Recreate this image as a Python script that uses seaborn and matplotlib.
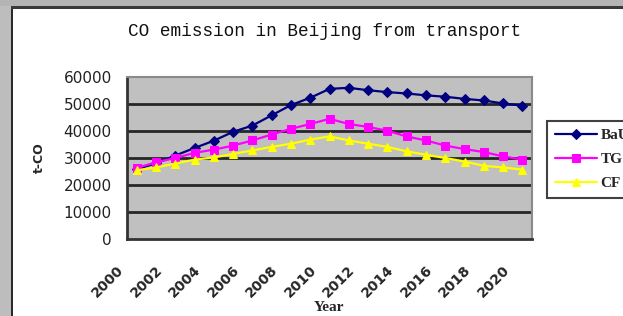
import numpy as np
import pandas as pd
import matplotlib
matplotlib.use("Agg")
import matplotlib.pyplot as plt
import matplotlib.transforms as mtransforms
import seaborn as sns
from matplotlib.patches import Rectangle

# === Data ===
years = list(range(2000, 2021))
bau = [25900, 28000, 30900, 33700, 36400, 39700, 42000, 45800, 49600, 52300, 55600,
       56000, 55100, 54400, 53900, 53200, 52700, 51900, 51300, 50200, 49400]
tg = [26300, 28400, 30000, 31900, 33100, 34600, 36500, 38700, 40800, 42600, 44500,
      42600, 41500, 40100, 38000, 36500, 34600, 33300, 32200, 30600, 29400]
cf = [25400, 26500, 27900, 29400, 30200, 31500, 32800, 34100, 35300, 36800, 38000,
      36500, 35300, 34100, 32500, 31200, 30000, 28700, 27100, 26500, 25700]
series_names = ["BaU", "TG", "CF"]
series_colors = ["#000080", "#ff00ff", "#ffff00"]
series_markers = ["D", "s", "^"]
y_ticks = [0, 10000, 20000, 30000, 40000, 50000, 60000]
label_years = list(range(2000, 2021, 2))

df = pd.DataFrame({"Year": years * 3,
                   "value": bau + tg + cf,
                   "scenario": np.repeat(series_names, len(years))})

sns.set_style("white")
fig = plt.figure(figsize=(6.23, 3.16), dpi=100)

# window frame (gray strip on the left and top, dark border)
fig.patches.append(Rectangle((0, 0), 11 / 623, 1, transform=fig.transFigure,
                             facecolor="#bdbdbd", edgecolor="none", zorder=0))
fig.patches.append(Rectangle((0, 1 - 6 / 316), 1, 6 / 316, transform=fig.transFigure,
                             facecolor="#b4b4b4", edgecolor="none", zorder=0))
fig.patches.append(Rectangle((11 / 623, 0), 2 / 623, 1 - 6 / 316, transform=fig.transFigure,
                             facecolor="#2a2a2a", edgecolor="none", zorder=1))
fig.patches.append(Rectangle((11 / 623, 1 - 8.5 / 316), 1, 2.5 / 316, transform=fig.transFigure,
                             facecolor="#3a3a3a", edgecolor="none", zorder=1))

ax = fig.add_axes([127 / 623, 1 - 239 / 316, 405 / 623, 162 / 316])
ax.set_facecolor("#c0c0c0")

for name, col, mk in zip(series_names, series_colors, series_markers):
    sns.lineplot(data=df[df["scenario"] == name], x="Year", y="value", ax=ax,
                 color=col, marker=mk, markersize=6 if mk != "D" else 5,
                 markeredgecolor=col, linewidth=1.6, label=name, zorder=3)

ax.set_xlim(1999.5, 2020.5)
ax.set_ylim(0, 60000)
ax.set_yticks(y_ticks)
ax.set_yticklabels([str(v) for v in y_ticks], fontsize=11, color="#222222")
for v in y_ticks[1:-1]:
    ax.axhline(v, color="#262626", linewidth=2, zorder=1)

ax.set_xticks(label_years)
ax.set_xticklabels([str(y) for y in label_years], rotation=45, ha="right",
                   rotation_mode="anchor", fontsize=10, fontweight="bold")
ax.set_xticks(np.arange(1999.5, 2021, 1), minor=True)
ax.tick_params(axis="x", which="major", length=0, pad=17)
ax.tick_params(axis="x", which="minor", direction="in", length=3, width=1.5, color="#202020")
ax.tick_params(axis="y", length=3, direction="out", width=1.5, color="#202020", pad=8)

# labels sit a bit left of their category, as in the reference
shift = mtransforms.ScaledTranslation(-0.2, 0, fig.dpi_scale_trans)
for tick in ax.xaxis.get_major_ticks():
    tick.label1.set_transform(tick.label1.get_transform() + shift)

for side in ["top", "right"]:
    ax.spines[side].set_color("#8a8a8a")
    ax.spines[side].set_linewidth(1.5)
for side in ["left", "bottom"]:
    ax.spines[side].set_color("#333333")
    ax.spines[side].set_linewidth(2)

ax.set_xlabel("Year", fontsize=11, fontweight="bold", family="Liberation Serif")
ax.set_ylabel("t-CO", fontsize=9, fontweight="bold")
ax.yaxis.set_label_coords(-0.2, 0.5)
ax.xaxis.set_label_coords(0.5, -0.385)

fig.text(325 / 623, 1 - 31 / 316, "CO emission in Beijing from transport",
         ha="center", va="center", fontsize=12.8, family="Liberation Mono",
         color="#111111")

leg = ax.legend(loc="upper left", bbox_to_anchor=(547 / 623, 1 - 121 / 316),
                bbox_transform=fig.transFigure, frameon=True, fancybox=False,
                fontsize=11, handlelength=2.8, handletextpad=0.2, borderpad=0.5,
                labelspacing=0.68, borderaxespad=0)
leg.get_frame().set_edgecolor("#111111")
leg.get_frame().set_linewidth(1.5)
for t in leg.get_texts():
    t.set_family("Liberation Serif")
    t.set_fontweight("bold")

fig.savefig("out.png", dpi=100)
